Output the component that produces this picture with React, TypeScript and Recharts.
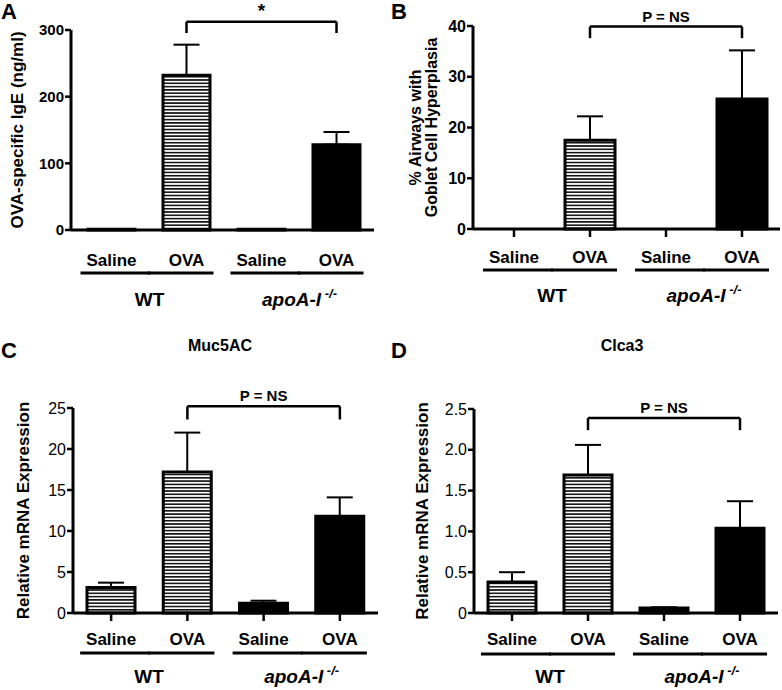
import React from "react";
import { BarChart, Bar, XAxis, YAxis, ErrorBar, Cell, ReferenceLine } from "recharts";

const FONT = '"Liberation Sans", Arial, Helvetica, sans-serif';

// groups on the x axis
const categories = ["WT Saline", "WT OVA", "apoA-I Saline", "apoA-I OVA"];
const treatments = ["Saline", "OVA", "Saline", "OVA"];
const groups = ["WT", "apoA-I"];
const fills = ["url(#hstripes)", "url(#hstripes)", "#000", "#000"];

// A: OVA-specific IgE (ng/ml)
const igeMean = [1, 232, 1, 128];
const igeSem = [0, 46, 0, 19];
const igeTicks = [0, 100, 200, 300];

// B: % airways with goblet cell hyperplasia
const gobletMean = [0, 17.5, 0, 25.6];
const gobletSem = [0, 4.7, 0, 9.6];
const gobletTicks = [0, 10, 20, 30, 40];

// C: Muc5AC relative expression
const mucMean = [3.1, 17.2, 1.2, 11.8];
const mucSem = [0.6, 4.8, 0.3, 2.3];
const mucTicks = [0, 5, 10, 15, 20, 25];

// D: Clca3 relative expression
const clcaMean = [0.38, 1.69, 0.06, 1.04];
const clcaSem = [0.12, 0.37, 0.01, 0.33];
const clcaTicks = [0, 0.5, 1, 1.5, 2, 2.5];

const makeRows = (mean: number[], sem: number[]) =>
  categories.map((name, i) => ({ name, value: mean[i], err: [0, sem[i]] }));

const XTick = (props: any) => {
  const { x, y, index, dys } = props;
  const [ly, uy, gy] = dys;
  const even = index % 2 === 0;
  return (
    <g>
      <text x={x} y={y + ly} textAnchor="middle" fontSize={17} fontWeight="bold" fill="#000">
        {treatments[index]}
      </text>
      <line x1={even ? x - 31 : x - 39} x2={even ? x + 39 : x + 27} y1={y + uy} y2={y + uy} stroke="#000" strokeWidth={3} />
      {even && (
        <text x={x + 38} y={y + gy} textAnchor="middle" fontSize={19} fontWeight="bold" fill="#000">
          {index === 0 ? (
            groups[0]
          ) : (
            <>
              <tspan fontStyle="italic">{groups[1]}</tspan>
              <tspan fontStyle="italic" fontSize={13} dy={-8}> -/-</tspan>
            </>
          )}
        </text>
      )}
    </g>
  );
};

const yTitle = (lines: string[], baselines: number[], size: number) => (p: any) => {
  const vb = p.viewBox || { x: 0, y: 0, height: 200 };
  const cy = vb.y + vb.height / 2;
  return (
    <g>
      {lines.map((t, i) => (
        <text
          key={t}
          x={baselines[i]}
          y={cy}
          transform={`rotate(-90 ${baselines[i]} ${cy})`}
          textAnchor="middle"
          fontSize={size}
          fontWeight="bold"
          fill="#000"
        >
          {t}
        </text>
      ))}
    </g>
  );
};

type PanelProps = {
  left: number; top: number; width: number; height: number;
  margin: { top: number; right: number; bottom: number; left: number };
  yWidth: number; xHeight: number; padLeft: number; barSize: number;
  mean: number[]; sem: number[]; ticks: number[];
  tickSize: number; tickWeight: string; fmt?: (v: number) => string;
  xTicks: boolean; dys: number[];
  title: string[]; titleX: number[]; titleSize: number;
  bracketTop: number; bracketLeg: number; sig: string; sigSize: number;
};

const Panel = (c: PanelProps) => {
  const rows = makeRows(c.mean, c.sem);
  const ax = { stroke: "#000", strokeWidth: 3 };
  const tl = { stroke: "#000", strokeWidth: 2.5 };
  return (
    <div style={{ position: "absolute", left: c.left, top: c.top }}>
      <BarChart width={c.width} height={c.height} data={rows} margin={c.margin}>
        <XAxis
          dataKey="name"
          height={c.xHeight}
          interval={0}
          axisLine={ax}
          tickLine={c.xTicks ? tl : false}
          tickSize={8}
          tickMargin={0}
          padding={{ left: c.padLeft, right: 0 }}
          tick={(p: any) => <XTick {...p} dys={c.dys} />}
        />
        <YAxis
          width={c.yWidth}
          domain={[c.ticks[0], c.ticks[c.ticks.length - 1]]}
          ticks={c.ticks}
          interval={0}
          axisLine={ax}
          tickLine={tl}
          tickSize={6}
          tickMargin={1}
          tickFormatter={c.fmt}
          tick={{ fill: "#000", fontSize: c.tickSize, fontWeight: c.tickWeight }}
          label={yTitle(c.title, c.titleX, c.titleSize)}
        />
        <Bar dataKey="value" barSize={c.barSize} stroke="#000" strokeWidth={3} isAnimationActive={false}>
          {rows.map((r, i) => (
            <Cell key={r.name} fill={fills[i]} />
          ))}
          <ErrorBar dataKey="err" direction="y" width={13} stroke="#000" strokeWidth={2} isAnimationActive={false} />
        </Bar>
        <ReferenceLine
          segment={[{ x: categories[1], y: c.bracketTop }, { x: categories[3], y: c.bracketTop }]}
          stroke="#000"
          strokeWidth={2.5}
          ifOverflow="visible"
          label={{ value: c.sig, position: "top", offset: 5, fill: "#000", fontSize: c.sigSize, fontWeight: "bold" }}
        />
        <ReferenceLine
          segment={[{ x: categories[1], y: c.bracketTop }, { x: categories[1], y: c.bracketLeg }]}
          stroke="#000"
          strokeWidth={2.5}
          ifOverflow="visible"
        />
        <ReferenceLine
          segment={[{ x: categories[3], y: c.bracketTop }, { x: categories[3], y: c.bracketLeg }]}
          stroke="#000"
          strokeWidth={2.5}
          ifOverflow="visible"
        />
      </BarChart>
    </div>
  );
};

export default function App() {
  return (
    <div style={{ position: "absolute", left: 0, top: 0, width: 782, height: 690, background: "#fff", fontFamily: FONT }}>
      <svg width={0} height={0} style={{ position: "absolute" }}>
        <defs>
          <pattern id="hstripes" patternUnits="userSpaceOnUse" width={8} height={3.3}>
            <rect width={8} height={3.3} fill="#fff" />
            <rect width={8} height={1.6} fill="#111" />
          </pattern>
        </defs>
      </svg>
      <Panel
        left={0} top={0} width={390} height={345}
        margin={{ top: 30, right: 16, bottom: 15, left: 0 }}
        yWidth={71} xHeight={100} padLeft={3} barSize={47}
        mean={igeMean} sem={igeSem} ticks={igeTicks}
        tickSize={15} tickWeight="bold" xTicks={false} dys={[28, 35, 68]}
        title={["OVA-specific IgE (ng/ml)"]} titleX={[23]} titleSize={17}
        bracketTop={312.5} bracketLeg={295.5} sig="*" sigSize={19}
      />
      <Panel
        left={390} top={0} width={392} height={345}
        margin={{ top: 26, right: 2, bottom: 16, left: 0 }}
        yWidth={83} xHeight={100} padLeft={3} barSize={50}
        mean={gobletMean} sem={gobletSem} ticks={gobletTicks}
        tickSize={16} tickWeight="bold" xTicks={true} dys={[26, 33, 65]}
        title={["% Airways with", "Goblet Cell Hyperplasia"]} titleX={[31, 47]} titleSize={16}
        bracketTop={39.9} bracketLeg={37.6} sig="P = NS" sigSize={15}
      />
      <Panel
        left={0} top={345} width={390} height={345}
        margin={{ top: 63, right: 12, bottom: 7, left: 0 }}
        yWidth={73} xHeight={70} padLeft={0} barSize={48}
        mean={mucMean} sem={mucSem} ticks={mucTicks}
        tickSize={16} tickWeight="normal" xTicks={true} dys={[24, 32, 62]}
        title={["Relative mRNA Expression"]} titleX={[29]} titleSize={17}
        bracketTop={25.2} bracketLeg={23.6} sig="P = NS" sigSize={15}
      />
      <Panel
        left={390} top={345} width={392} height={345}
        margin={{ top: 64, right: 4, bottom: 7, left: 0 }}
        yWidth={84} xHeight={70} padLeft={0} barSize={48}
        mean={clcaMean} sem={clcaSem} ticks={clcaTicks}
        fmt={(v: number) => (v === 0 ? "0" : v.toFixed(1))}
        tickSize={16} tickWeight="normal" xTicks={true} dys={[24, 33, 62]}
        title={["Relative mRNA Expression"]} titleX={[38]} titleSize={17}
        bracketTop={2.39} bracketLeg={2.24} sig="P = NS" sigSize={15}
      />
      <svg width={782} height={690} style={{ position: "absolute", left: 0, top: 0, pointerEvents: "none" }}>
        <g fontWeight="bold" fill="#000">
          <text x={1} y={19} fontSize={22}>A</text>
          <text x={391} y={19} fontSize={22}>B</text>
          <text x={1} y={358} fontSize={22}>C</text>
          <text x={391} y={358} fontSize={22}>D</text>
          <text x={220} y={351} fontSize={16} textAnchor="middle">Muc5AC</text>
          <text x={622} y={351} fontSize={16} textAnchor="middle">Clca3</text>
        </g>
      </svg>
    </div>
  );
}
